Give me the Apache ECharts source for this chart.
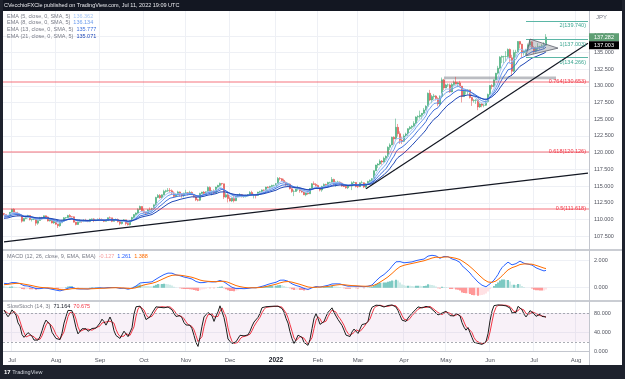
<!DOCTYPE html>
<html><head><meta charset="utf-8">
<script src="https://cdn.jsdelivr.net/npm/echarts@6/dist/echarts.min.js"></script>
<style>html,body{margin:0;padding:0;background:#fff}#c{width:625px;height:379px}</style>
</head><body><div id="c"></div>
<script>
// ---- DATA: daily USD/JPY bars [open, high, low, close] ----
const warmup = [[109.55,109.80,109.40,109.55],[109.55,110.00,109.50,109.85],[109.85,110.33,109.75,110.28],[110.28,110.33,109.36,109.50],[109.50,109.66,109.20,109.25],[109.25,109.55,109.20,109.48],[109.48,109.70,109.35,109.62],[109.62,109.80,109.25,109.35],[109.35,109.75,109.30,109.65],[109.65,110.15,109.60,110.07],[110.07,110.20,109.95,110.07],[110.07,110.72,109.95,110.68],[110.68,110.82,110.05,110.22],[110.22,110.45,109.70,110.20],[110.20,110.40,109.75,110.27],[110.27,110.78,110.20,110.65],[110.65,111.12,110.60,110.98],[110.98,111.00,110.68,110.88]];
const jun21 = [[110.88,110.98,110.60,110.75],[110.75,110.80,110.40,110.55],[110.55,110.60,110.40,110.52],[110.52,111.12,110.45,111.08]];
const jul21 = [[111.08,111.60,111.00,111.52],[111.52,111.66,110.95,111.05],[111.05,111.15,110.90,110.95],[110.95,111.15,110.55,110.62],[110.62,110.85,110.55,110.65],[110.65,110.70,109.53,109.75],[109.75,110.20,109.75,110.15],[110.15,110.40,110.05,110.35],[110.35,110.70,110.15,110.60],[110.60,110.65,109.85,109.98],[109.98,110.10,109.70,110.05],[110.05,110.20,109.90,110.07],[110.07,110.10,109.06,109.45],[109.45,109.90,109.20,109.85],[109.85,110.40,109.80,110.28],[110.28,110.40,110.00,110.15],[110.15,110.60,110.10,110.55],[110.55,110.60,110.20,110.38],[110.38,110.45,109.70,109.77],[109.77,110.20,109.70,109.90],[109.90,110.00,109.40,109.48],[109.48,109.80,109.35,109.72]];
const aug21 = [[109.72,109.75,109.20,109.30],[109.30,109.30,108.72,109.05],[109.05,109.70,108.90,109.50],[109.50,109.82,109.45,109.76],[109.76,110.36,109.70,110.25],[110.25,110.35,110.10,110.28],[110.28,110.70,110.20,110.58],[110.58,110.80,110.35,110.42],[110.42,110.50,110.30,110.40],[110.40,110.45,109.55,109.60],[109.60,109.65,109.12,109.25],[109.25,109.70,109.20,109.60],[109.60,110.00,109.55,109.77],[109.77,109.90,109.50,109.75],[109.75,110.05,109.60,109.78],[109.78,110.10,109.65,109.70],[109.70,109.80,109.60,109.68],[109.68,110.10,109.60,110.02],[110.02,110.15,109.90,110.08],[110.08,110.20,109.60,109.83],[109.83,110.00,109.75,109.92],[109.92,110.15,109.80,110.02]];
const sep21 = [[110.02,110.25,109.90,110.00],[110.00,110.15,109.85,109.93],[109.93,110.00,109.60,109.72],[109.72,109.90,109.70,109.83],[109.83,110.30,109.80,110.27],[110.27,110.45,110.10,110.25],[110.25,110.25,109.60,109.72],[109.72,110.10,109.70,109.93],[109.93,110.15,109.85,110.00],[110.00,110.15,109.55,109.68],[109.68,109.80,109.12,109.38],[109.38,109.80,109.25,109.72],[109.72,110.05,109.65,109.95],[109.95,109.95,109.12,109.40],[109.40,109.60,109.10,109.22],[109.22,109.80,109.10,109.78],[109.78,110.40,109.75,110.30],[110.30,110.80,110.20,110.73],[110.73,111.05,110.55,110.98],[110.98,111.68,110.80,111.50],[111.50,112.08,111.40,111.95],[111.95,112.00,111.20,111.30]];
const oct21 = [[111.30,111.60,110.95,111.05],[111.05,111.15,110.82,110.92],[110.92,111.55,110.85,111.45],[111.45,111.80,111.25,111.40],[111.40,111.75,111.30,111.63],[111.63,112.25,111.60,112.20],[112.20,113.40,112.10,113.30],[113.30,113.80,113.20,113.60],[113.60,113.80,113.10,113.25],[113.25,113.75,113.10,113.70],[113.70,114.45,113.60,114.20],[114.20,114.45,114.00,114.30],[114.30,114.70,114.10,114.35],[114.35,114.70,114.00,114.30],[114.30,114.50,113.70,113.98],[113.98,114.20,113.40,113.45],[113.45,113.90,113.40,113.70],[113.70,114.30,113.60,114.13],[114.13,114.20,113.45,113.80],[113.80,113.85,113.25,113.58],[113.58,114.00,113.30,113.95]];
const nov21 = [[113.95,114.45,113.80,114.00],[114.00,114.10,113.60,113.95],[113.95,114.30,113.70,114.05],[114.05,114.20,113.70,113.75],[113.75,113.80,113.30,113.40],[113.40,113.60,112.75,112.95],[112.95,113.10,112.70,112.88],[112.88,114.00,112.75,113.90],[113.90,114.15,113.80,114.10],[114.10,114.25,113.80,113.90],[113.90,114.20,113.80,114.15],[114.15,114.95,114.10,114.80],[114.80,114.95,114.00,114.10],[114.10,114.40,113.60,114.25],[114.25,114.50,113.80,114.00],[114.00,114.90,113.95,114.85],[114.85,115.20,114.75,115.10],[115.10,115.52,114.90,115.40],[115.40,115.45,115.10,115.35],[115.35,115.35,113.05,113.35],[113.35,113.95,113.25,113.70],[113.70,114.00,112.55,113.15]];
const dec21 = [[113.15,113.45,112.70,112.78],[112.78,113.30,112.60,113.18],[113.18,113.50,112.55,112.80],[112.80,113.50,112.75,113.45],[113.45,113.80,113.35,113.50],[113.50,113.95,113.40,113.70],[113.70,113.80,113.30,113.40],[113.40,113.65,113.25,113.45],[113.45,113.70,113.30,113.55],[113.55,113.80,113.45,113.70],[113.70,114.25,113.60,114.05],[114.05,114.30,113.60,113.70],[113.70,113.85,113.15,113.70],[113.70,113.80,113.15,113.60],[113.60,114.15,113.55,114.10],[114.10,114.30,113.95,114.15],[114.15,114.50,114.05,114.42],[114.42,114.50,114.25,114.35],[114.35,114.90,114.30,114.85],[114.85,114.95,114.65,114.80],[114.80,115.05,114.75,114.95],[114.95,115.20,114.90,115.10],[115.10,115.20,114.95,115.10]];
const jan22 = [[115.10,115.45,115.00,115.35],[115.35,116.35,115.25,116.15],[116.15,116.35,115.85,116.10],[116.10,116.20,115.65,115.85],[115.85,116.10,115.50,115.55],[115.55,115.70,115.00,115.20],[115.20,115.50,115.10,115.30],[115.30,115.40,114.50,114.60],[114.60,114.70,114.00,114.20],[114.20,114.45,113.50,114.20],[114.20,114.70,114.15,114.60],[114.60,115.05,114.30,114.60],[114.60,114.75,114.00,114.30],[114.30,114.50,114.00,114.10],[114.10,114.20,113.65,113.70],[113.70,114.10,113.47,113.95],[113.95,114.10,113.70,113.85],[113.85,114.70,113.80,114.65],[114.65,115.45,114.55,115.35],[115.35,115.70,115.20,115.25],[115.25,115.45,114.90,115.10]];
const feb22 = [[115.10,115.20,114.60,114.70],[114.70,114.80,114.20,114.40],[114.40,115.05,114.15,114.95],[114.95,115.40,114.80,115.25],[115.25,115.35,114.95,115.10],[115.10,115.65,115.00,115.55],[115.55,115.65,115.40,115.55],[115.55,116.35,115.40,116.00],[116.00,116.10,115.05,115.40],[115.40,115.70,114.90,115.60],[115.60,115.80,115.40,115.60],[115.60,115.70,115.30,115.45],[115.45,115.55,114.90,115.00],[115.00,115.15,114.85,114.95],[114.95,115.10,114.60,114.75],[114.75,115.15,114.55,115.05],[115.05,115.20,114.95,115.00],[115.00,115.70,114.40,115.50],[115.50,115.75,115.40,115.55],[115.55,115.60,114.80,114.95]];
const mar22 = [[114.95,115.15,114.70,114.90],[114.90,115.55,114.85,115.50],[115.50,115.80,115.40,115.50],[115.50,115.55,114.70,114.85],[114.85,115.45,114.65,115.30],[115.30,115.80,115.20,115.70],[115.70,116.00,115.60,115.85],[115.85,116.20,115.70,116.10],[116.10,117.35,116.05,117.30],[117.30,118.20,117.25,118.15],[118.15,118.45,117.70,118.30],[118.30,119.00,118.10,118.75],[118.75,118.90,118.20,118.60],[118.60,119.40,118.50,119.15],[119.15,119.60,118.85,119.45],[119.45,120.95,119.40,120.80],[120.80,121.40,120.40,121.15],[121.15,122.40,121.10,122.30],[122.30,122.45,121.20,122.05],[122.05,125.10,122.00,123.80],[123.80,124.30,122.40,122.85],[122.85,123.20,121.30,121.85],[121.85,122.40,121.30,121.70]];
const apr22 = [[121.70,122.75,121.60,122.50],[122.50,123.00,122.30,122.80],[122.80,123.65,122.50,123.60],[123.60,124.00,123.40,123.80],[123.80,124.10,123.50,123.95],[123.95,124.70,123.90,124.35],[124.35,125.45,124.30,125.35],[125.35,125.60,124.80,125.40],[125.40,126.30,125.10,125.60],[125.60,125.90,125.00,125.90],[125.90,126.70,125.80,126.40],[126.40,127.10,126.30,126.95],[126.95,129.00,126.90,128.90],[128.90,129.40,127.70,127.90],[127.90,128.65,127.40,128.40],[128.40,128.80,127.95,128.50],[128.50,128.60,127.80,128.10],[128.10,128.30,126.95,127.30],[127.30,128.60,127.10,128.40],[128.40,131.25,128.35,130.90],[130.90,131.05,129.35,129.70]];
const may22 = [[129.70,130.30,129.65,130.15],[130.15,130.35,129.85,130.15],[130.15,130.35,128.95,129.10],[129.10,130.45,129.05,130.20],[130.20,130.80,130.00,130.55],[130.55,131.35,130.20,130.30],[130.30,130.60,129.80,130.45],[130.45,130.75,129.90,129.95],[129.95,130.00,127.52,128.40],[128.40,129.45,128.35,129.20],[129.20,129.40,128.70,129.20],[129.20,129.50,128.70,129.40],[129.40,129.45,128.10,128.25],[128.25,128.35,127.00,127.80],[127.80,128.00,127.50,127.85],[127.85,128.00,127.30,127.90],[127.90,128.00,126.36,126.85],[126.85,127.50,126.70,127.30],[127.30,127.40,126.80,127.10],[127.10,127.30,126.80,127.10],[127.10,127.80,127.00,127.65],[127.65,128.85,127.50,128.70]];
const jun22 = [[128.70,130.10,128.60,130.05],[130.05,130.25,129.50,129.90],[129.90,130.95,129.80,130.90],[130.90,131.95,130.80,131.90],[131.90,133.00,131.70,132.65],[132.65,134.45,132.50,134.30],[134.30,134.55,133.40,134.40],[134.40,134.50,133.35,134.40],[134.40,135.20,133.60,134.40],[134.40,135.60,134.20,135.45],[135.45,135.60,133.50,134.20],[134.20,134.65,131.50,132.20],[132.20,135.40,132.05,135.00],[135.00,135.40,134.30,135.05],[135.05,136.70,134.90,136.65],[136.65,136.71,135.60,136.25],[136.25,136.30,134.27,134.95],[134.95,135.40,134.55,135.20],[135.20,135.55,134.55,135.45],[135.45,136.35,135.30,136.10],[136.10,137.00,135.90,136.60],[136.60,136.70,135.50,135.75]];
const jul22 = [[135.75,135.95,134.75,135.20],[135.20,135.90,135.00,135.70],[135.70,136.40,135.25,135.85],[135.85,136.00,135.40,135.90],[135.90,136.25,135.65,136.00],[136.00,136.55,135.55,136.10],[136.10,137.75,136.05,137.28]];

// axis ticks / labels
const priceTicks = [107.5,110,112.5,115,117.5,120,122.5,125,127.5,130,132.5,135,137.5];
const macdTicks = [0,2];
const stochTicks = [0,40,80];
const monthNames = ['Jan','Feb','Mar','Apr','May','Jun','Jul','Aug','Sep','Oct','Nov','Dec'];

// drawings (date, price)
const fibRetNames = ['0.764','0.618','0.5'];
const fibRetLevels = [130.653,120.126,111.618];
const fibExtNames = ['2','1','0'];
const fibExtLevels = [139.740,137.003,134.266];
const fibExtStart = '2022-06-27';
const trendA = [['2021-06-25',106.65],['2022-08-09',116.94]];
const trendB = [['2022-03-07',114.60],['2022-08-09',136.40]];
const boxDates = ['2022-04-29','2022-07-18'];
const boxPrices = [131.0,131.4];
const triDates = ['2022-06-27','2022-06-29','2022-07-19'];
const triPrices = [134.50,137.00,135.65];

// legend text values as printed
const emaLabels = ['EMA (5, close, 0, SMA, 5)','EMA (8, close, 0, SMA, 5)','EMA (13, close, 0, SMA, 5)','EMA (21, close, 0, SMA, 5)'];
const emaValues = ['136.362','136.134','135.777','135.071'];
const emaPeriods = [5,8,13,21];
const emaColors = ['#a6c6f4','#6d9ded','#3f70dc','#1f47b6'];
const macdValues = ['-0.127','1.261','1.388'];
const stochValues = ['71.164','70.675'];
const lastPrice = 137.282;
const markPrice = 137.003;

// ---- build ----
const categories = [];
(function(){ let t = Date.UTC(2021,5,25); const end = Date.UTC(2022,7,9);
  while (t <= end) { const d = new Date(t); const wd = d.getUTCDay();
    if (wd > 0 && wd < 6) categories.push(d.toISOString().slice(0,10)); t += 86400000; } })();
const monthStart = categories.map((c,i)=> i>0 && c.slice(5,7)!==categories[i-1].slice(5,7));

const bars = [].concat(jun21,jul21,aug21,sep21,oct21,nov21,dec21,jan22,feb22,mar22,apr22,may22,jun22,jul22);
const all = warmup.concat(bars);
const W = warmup.length;
const C = all.map(b=>b[3]), H = all.map(b=>b[1]), L = all.map(b=>b[2]);

function ema(a,n){ const k=2/(n+1); let p=null; return a.map(v=>{ if(v==null) return null; p = p==null ? v : v*k + p*(1-k); return p; }); }
function sma(a,n){ return a.map((v,i)=>{ if(i<n-1) return null; let s=0; for(let j=i-n+1;j<=i;j++){ if(a[j]==null) return null; s+=a[j]; } return s/n; }); }

const candle = bars.map(b=>[b[0],b[3],b[2],b[1]]);
const emaSeries = emaPeriods.map(n=>ema(C,n).slice(W).map(v=>+v.toFixed(3)));
const e12 = ema(C,12), e26 = ema(C,26);
const macd = e12.map((v,i)=>v-e26[i]);
const sig = ema(macd,9);
const hist = macd.map((v,i)=>v-sig[i]);
const histData = hist.map((h,i)=>{
  const p = i>0 ? hist[i-1] : h;
  const col = h>=0 ? (h>p ? '#26a69a' : '#b2dfdb') : (h>p ? '#ffcdd2' : '#ff5252');
  return {value:+h.toFixed(4), itemStyle:{color:col}};
}).slice(W);
const rawK = C.map((c,i)=>{ if(i<13) return null; let hh=-1e9, ll=1e9; for(let j=i-13;j<=i;j++){ hh=Math.max(hh,H[j]); ll=Math.min(ll,L[j]); } return 100*(c-ll)/(hh-ll); });
const K = sma(rawK,3), D = sma(K,3);

const FONT = 'Liberation Sans';
const axisTxt = {color:'#50535e', fontSize:5.5, fontFamily:FONT};
const gridLine = {color:'#eef0f5', width:1};

function xAxis(i, showLabel){
  return {type:'category', gridIndex:i, data:categories, boundaryGap:true,
    axisLine:{show:showLabel, lineStyle:{color:'#c3c6ce'}}, axisTick:{show:false},
    axisLabel:{show:showLabel, interval:(idx)=>monthStart[idx], margin:5, color:'#50535e', fontSize:6, fontFamily:FONT,
      formatter:(v)=>{ const m=+v.slice(5,7); return m===1 ? '{b|'+v.slice(0,4)+'}' : monthNames[m-1]; },
      rich:{b:{fontWeight:'bold', fontSize:6.5, color:'#131722', fontFamily:FONT}}},
    splitLine:{show:true, interval:(idx)=>monthStart[idx], lineStyle:gridLine}};
}
function yAxis(i, min, max, ticks){
  return {type:'value', gridIndex:i, position:'right', min:min, max:max, scale:true,
    axisLine:{show:false}, axisTick:{show:false, customValues:ticks},
    axisLabel:{customValues:ticks, margin:5, formatter:(v)=>v.toFixed(3), ...axisTxt},
    splitLine:{show:true, lineStyle:gridLine}};
}
const xi = (d)=>categories.indexOf(d);

const chart = echarts.init(document.getElementById('c'), null, {renderer:'canvas'});
const option = {
  animation:false,
  backgroundColor:'#ffffff',
  grid:[{left:3, top:11, width:586, height:238},{left:3, top:251, width:586, height:49},{left:3, top:302, width:586, height:50}],
  xAxis:[xAxis(0,false), xAxis(1,false), xAxis(2,true)],
  yAxis:[yAxis(0,105.58,141.21,priceTicks), yAxis(1,-0.89,2.65,macdTicks), yAxis(2,-1.5,103.8,stochTicks)],
  series:[
    {type:'candlestick', xAxisIndex:0, yAxisIndex:0, data:candle, barWidth:1.6, z:3,
      itemStyle:{color:'#33a46c', color0:'#e2403c', borderColor:'#33a46c', borderColor0:'#e2403c', borderWidth:0.5},
      markLine:{silent:true, symbol:['none','none'], animation:false, data:[
        ...fibRetLevels.map((v,i)=>({yAxis:v, lineStyle:{color:'rgba(242,54,69,0.35)', width:2, type:'solid'},
          label:{show:true, position:'insideEnd', formatter:fibRetNames[i]+'('+v.toFixed(3)+')', color:'#f23645', fontSize:5.5, fontFamily:FONT, distance:3}})),
        ...fibExtLevels.map((v,i)=>[{coord:[fibExtStart,v], lineStyle:{color:'#5bb6a6', width:1, type:'solid'},
          label:{show:true, position:'insideEndBottom', formatter:fibExtNames[i]+'('+v.toFixed(3)+')', color:'#3aa590', fontSize:5.5, fontFamily:FONT, distance:2}},{coord:[categories[categories.length-1],v]}]),
        [{coord:trendA[0], lineStyle:{color:'#131722', width:1.2, type:'solid'}, label:{show:false}},{coord:trendA[1]}],
        [{coord:trendB[0], lineStyle:{color:'#131722', width:1.2, type:'solid'}, label:{show:false}},{coord:trendB[1]}]
      ]},
      markArea:{silent:true, itemStyle:{color:'rgba(150,153,162,0.65)'}, data:[[{xAxis:boxDates[0], yAxis:boxPrices[0]},{xAxis:boxDates[1], yAxis:boxPrices[1]}]]}
    },
    ...emaSeries.map((d,i)=>({type:'line', xAxisIndex:0, yAxisIndex:0, data:d, showSymbol:false, symbol:'none', z:4,
      lineStyle:{color:emaColors[i], width:1}})),
    {type:'custom', xAxisIndex:0, yAxisIndex:0, z:6, data:[[xi(triDates[0]), triPrices[0]]],
      renderItem:(p,api)=>{ const pts = triDates.map((d,i)=>api.coord([xi(d), triPrices[i]]));
        return {type:'polygon', shape:{points:pts}, style:{fill:'rgba(120,123,134,0.35)', stroke:'#5d606b', lineWidth:0.8}}; }},
    {type:'bar', xAxisIndex:1, yAxisIndex:1, data:histData, barWidth:1.2},
    {type:'line', xAxisIndex:1, yAxisIndex:1, data:macd.slice(W).map(v=>+v.toFixed(4)), showSymbol:false, symbol:'none', lineStyle:{color:'#2962ff', width:1}},
    {type:'line', xAxisIndex:1, yAxisIndex:1, data:sig.slice(W).map(v=>+v.toFixed(4)), showSymbol:false, symbol:'none', lineStyle:{color:'#ff6d00', width:1}},
    {type:'line', xAxisIndex:2, yAxisIndex:2, data:K.slice(W).map(v=>+v.toFixed(3)), showSymbol:false, symbol:'none', lineStyle:{color:'#1e1e1e', width:1}, z:4,
      markArea:{silent:true, itemStyle:{color:'rgba(214,170,214,0.16)'}, data:[[{yAxis:20},{yAxis:80}]]},
      markLine:{silent:true, symbol:['none','none'], label:{show:false}, lineStyle:{color:'#9598a1', type:[2,2], width:0.8}, data:[{yAxis:80},{yAxis:20}]}},
    {type:'line', xAxisIndex:2, yAxisIndex:2, data:D.slice(W).map(v=>+v.toFixed(3)), showSymbol:false, symbol:'none', lineStyle:{color:'#f23645', width:1}, z:3}
  ]
};
chart.setOption(option);

// overlays: frame, titles, legends, badges
const yLast = chart.convertToPixel({yAxisIndex:0}, lastPrice);
const BH = 8;
const lg = (x,y,rich,text)=>({type:'text', x:x, y:y, style:{text:text, rich:rich, fontSize:5.5, fontFamily:FONT, fill:'#787b86', verticalAlign:'middle'}, z:100});
const emaRich = {l:{fill:'#787b86', fontSize:5.5, fontFamily:FONT}};
emaColors.forEach((c,i)=>{ emaRich['v'+i] = {fill:c, fontSize:5.5, fontFamily:FONT}; });
chart.setOption({graphic:[
  {type:'rect', shape:{x:0,y:0,width:625,height:11}, style:{fill:'#131722'}, z:200},
  {type:'text', x:4, y:5.5, style:{text:'CVecchioFXCle published on TradingView.com, Jul 11, 2022 19:09 UTC', fill:'#e8e9ed', fontSize:5.5, fontFamily:FONT, verticalAlign:'middle'}, z:201},
  {type:'rect', shape:{x:0,y:365,width:625,height:14}, style:{fill:'#1e222d'}, z:200},
  {type:'text', x:4, y:372, style:{text:'{l|17} TradingView', rich:{l:{fontWeight:'bold', fontSize:6, fill:'#ffffff', fontFamily:FONT}}, fill:'#d1d4dc', fontSize:5.5, fontFamily:FONT, verticalAlign:'middle'}, z:201},
  {type:'rect', shape:{x:0,y:0,width:3,height:379}, style:{fill:'#1e222d'}, z:200},
  {type:'rect', shape:{x:622,y:0,width:3,height:379}, style:{fill:'#1e222d'}, z:200},
  {type:'line', shape:{x1:3,y1:250,x2:622,y2:250}, style:{stroke:'#b9bcc4', lineWidth:1.5}, z:150},
  {type:'line', shape:{x1:3,y1:301,x2:622,y2:301}, style:{stroke:'#b9bcc4', lineWidth:1.5}, z:150},
  {type:'line', shape:{x1:589.5,y1:11,x2:589.5,y2:365}, style:{stroke:'#c3c6ce', lineWidth:1}, z:150},
  {type:'text', x:596, y:17, style:{text:'JPY', fill:'#787b86', fontSize:6, fontFamily:FONT, verticalAlign:'middle'}, z:150},
  {type:'rect', shape:{x:589,y:yLast-BH/2,width:30,height:BH}, style:{fill:'#5f9f74'}, z:160},
  {type:'text', x:604, y:yLast, style:{text:lastPrice.toFixed(3), fill:'#fff', fontSize:5.5, fontFamily:FONT, align:'center', verticalAlign:'middle'}, z:161},
  {type:'rect', shape:{x:589,y:yLast+BH/2,width:30,height:BH}, style:{fill:'#000'}, z:160},
  {type:'text', x:604, y:yLast+BH, style:{text:markPrice.toFixed(3), fill:'#fff', fontSize:5.5, fontFamily:FONT, align:'center', verticalAlign:'middle'}, z:161},
  ...emaLabels.map((t,i)=>lg(7, 16+i*6.8, emaRich, '{l|'+t+'}  {v'+i+'|'+emaValues[i]+'}')),
  lg(7, 256, {l:{fill:'#787b86',fontSize:5.5,fontFamily:FONT}, a:{fill:'#f7a1a1',fontSize:5.5,fontFamily:FONT}, b:{fill:'#2962ff',fontSize:5.5,fontFamily:FONT}, c:{fill:'#ff6d00',fontSize:5.5,fontFamily:FONT}},
    '{l|MACD (12, 26, close, 9, EMA, EMA)}  {a|'+macdValues[0]+'}  {b|'+macdValues[1]+'}  {c|'+macdValues[2]+'}'),
  lg(7, 306.5, {l:{fill:'#787b86',fontSize:5.5,fontFamily:FONT}, a:{fill:'#131722',fontSize:5.5,fontFamily:FONT}, b:{fill:'#f23645',fontSize:5.5,fontFamily:FONT}},
    '{l|SlowStoch (14, 3)}  {a|'+stochValues[0]+'}  {b|'+stochValues[1]+'}')
]});
</script></body></html>
